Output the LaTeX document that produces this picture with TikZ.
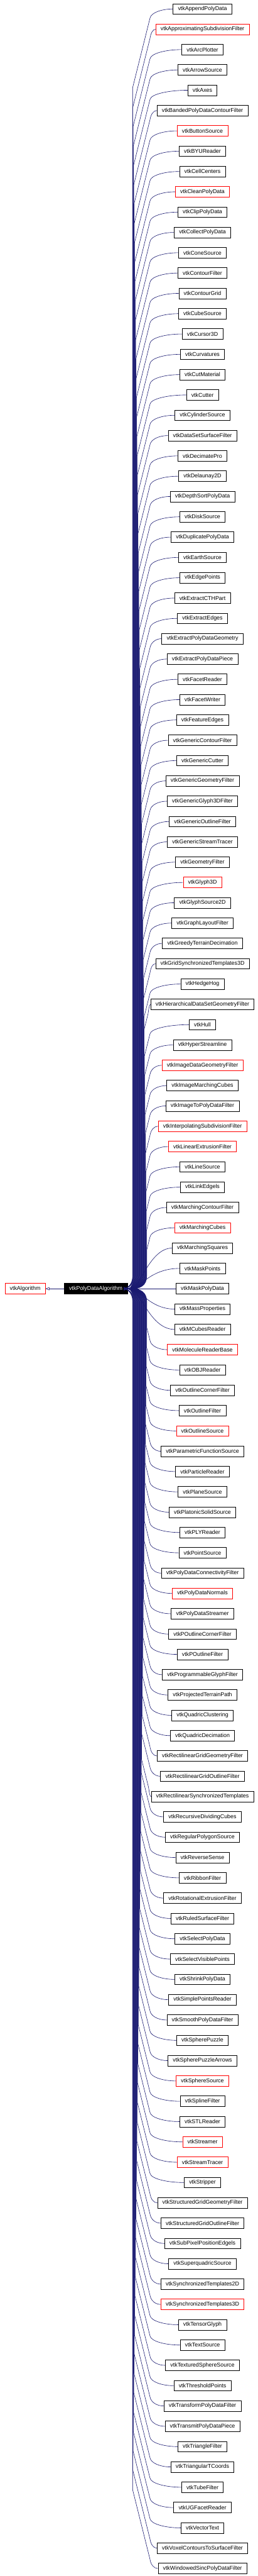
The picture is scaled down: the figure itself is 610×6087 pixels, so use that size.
\documentclass[tikz,border=0pt]{standalone}
\usepackage{fontspec}
\setmainfont{Liberation Sans}
\usetikzlibrary{arrows.meta}
\definecolor{navy}{HTML}{191970}
\tikzset{
  cls/.style={draw, line width=1pt, minimum height=25pt, inner xsep=11.5pt, inner ysep=0pt,
    font=\fontsize{13.2}{15}\selectfont, fill=white},
  rootcls/.style={cls, fill=black, text=white},
  inh/.style={draw=navy, line width=0.9pt, {Triangle[open, length=9pt, width=7pt]}-}
}
\begin{document}
\begin{tikzpicture}[x=1pt,y=-1pt]
\useasboundingbox (0,0) rectangle (610,6087);
\foreach \nm/\col [count=\i] in {
vtkAppendPolyData/black,
vtkApproximatingSubdivisionFilter/red,
vtkArcPlotter/black,
vtkArrowSource/black,
vtkAxes/black,
vtkBandedPolyDataContourFilter/black,
vtkButtonSource/red,
vtkBYUReader/black,
vtkCellCenters/black,
vtkCleanPolyData/red,
vtkClipPolyData/black,
vtkCollectPolyData/black,
vtkConeSource/black,
vtkContourFilter/black,
vtkContourGrid/black,
vtkCubeSource/black,
vtkCursor3D/black,
vtkCurvatures/black,
vtkCutMaterial/black,
vtkCutter/black,
vtkCylinderSource/black,
vtkDataSetSurfaceFilter/black,
vtkDecimatePro/black,
vtkDelaunay2D/black,
vtkDepthSortPolyData/black,
vtkDiskSource/black,
vtkDuplicatePolyData/black,
vtkEarthSource/black,
vtkEdgePoints/black,
vtkExtractCTHPart/black,
vtkExtractEdges/black,
vtkExtractPolyDataGeometry/black,
vtkExtractPolyDataPiece/black,
vtkFacetReader/black,
vtkFacetWriter/black,
vtkFeatureEdges/black,
vtkGenericContourFilter/black,
vtkGenericCutter/black,
vtkGenericGeometryFilter/black,
vtkGenericGlyph3DFilter/black,
vtkGenericOutlineFilter/black,
vtkGenericStreamTracer/black,
vtkGeometryFilter/black,
vtkGlyph3D/red,
vtkGlyphSource2D/black,
vtkGraphLayoutFilter/black,
vtkGreedyTerrainDecimation/black,
vtkGridSynchronizedTemplates3D/black,
vtkHedgeHog/black,
vtkHierarchicalDataSetGeometryFilter/black,
vtkHull/black,
vtkHyperStreamline/black,
vtkImageDataGeometryFilter/red,
vtkImageMarchingCubes/black,
vtkImageToPolyDataFilter/black,
vtkInterpolatingSubdivisionFilter/red,
vtkLinearExtrusionFilter/red,
vtkLineSource/black,
vtkLinkEdgels/black,
vtkMarchingContourFilter/black,
vtkMarchingCubes/red,
vtkMarchingSquares/black,
vtkMaskPoints/black,
vtkMaskPolyData/black,
vtkMassProperties/black,
vtkMCubesReader/black,
vtkMoleculeReaderBase/red,
vtkOBJReader/black,
vtkOutlineCornerFilter/black,
vtkOutlineFilter/black,
vtkOutlineSource/red,
vtkParametricFunctionSource/black,
vtkParticleReader/black,
vtkPlaneSource/black,
vtkPlatonicSolidSource/black,
vtkPLYReader/black,
vtkPointSource/black,
vtkPolyDataConnectivityFilter/black,
vtkPolyDataNormals/red,
vtkPolyDataStreamer/black,
vtkPOutlineCornerFilter/black,
vtkPOutlineFilter/black,
vtkProgrammableGlyphFilter/black,
vtkProjectedTerrainPath/black,
vtkQuadricClustering/black,
vtkQuadricDecimation/black,
vtkRectilinearGridGeometryFilter/black,
vtkRectilinearGridOutlineFilter/black,
vtkRectilinearSynchronizedTemplates/black,
vtkRecursiveDividingCubes/black,
vtkRegularPolygonSource/black,
vtkReverseSense/black,
vtkRibbonFilter/black,
vtkRotationalExtrusionFilter/black,
vtkRuledSurfaceFilter/black,
vtkSelectPolyData/black,
vtkSelectVisiblePoints/black,
vtkShrinkPolyData/black,
vtkSimplePointsReader/black,
vtkSmoothPolyDataFilter/black,
vtkSpherePuzzle/black,
vtkSpherePuzzleArrows/black,
vtkSphereSource/red,
vtkSplineFilter/black,
vtkSTLReader/black,
vtkStreamer/red,
vtkStreamTracer/red,
vtkStripper/black,
vtkStructuredGridGeometryFilter/black,
vtkStructuredGridOutlineFilter/black,
vtkSubPixelPositionEdgels/black,
vtkSuperquadricSource/black,
vtkSynchronizedTemplates2D/black,
vtkSynchronizedTemplates3D/red,
vtkTensorGlyph/black,
vtkTextSource/black,
vtkTexturedSphereSource/black,
vtkThresholdPoints/black,
vtkTransformPolyDataFilter/black,
vtkTransmitPolyDataPiece/black,
vtkTriangleFilter/black,
vtkTriangularTCoords/black,
vtkTubeFilter/black,
vtkUGFacetReader/black,
vtkVectorText/black,
vtkVoxelContoursToSurfaceFilter/black,
vtkWindowedSincPolyDataFilter/black}
{
  \node[cls, draw=\col] (n\i) at (479.3, {21.2+48*(\i-1)}) {\nm};
}
\node[rootcls, anchor=east] (p) at (302, 3045.2) {vtkPolyDataAlgorithm};
\node[cls, draw=red, anchor=east] (a) at ([xshift=-44pt]p.west) {vtkAlgorithm};
\draw[inh] (a.east) -- (p.west);
\foreach \i in {1,...,127}{
  \pgfmathtruncatemacro\k{abs(\i-64)}
  \pgfmathsetmacro\yc{21.2+48*(\i-1)}
  \pgfmathsetmacro\s{ifthenelse(\i<64,1,-1)}
  \path (n\i.west); \pgfgetlastxy{\wx}{\wy}
  \pgfmathsetmacro\wxn{\wx}
  \pgfmathsetmacro\sx{min(355,\wxn-6)}
  \pgfmathsetmacro\cx{349-\k/63*35}
  \pgfmathsetmacro\ya{\yc+\s*(22+4*(\sx-\cx))}
  \pgfmathsetmacro\xm{(\sx+\wxn)/2}
  \ifnum\k=0
    \draw[inh] (p.east) -- (n\i.west);
  \else\ifnum\k<3
    \draw[inh] (p.east) .. controls (330,3045.2) and (\sx,\yc) .. (n\i.west);
  \else
    \draw[inh] (p.east) .. controls ({\cx-15},3045.2) and (\cx,{3045.2-\s*8}) .. (\cx,{3045.2-\s*30}) -- (\cx,\ya) -- (\sx,{\yc+\s*22}) .. controls ({\sx+2},{\yc+\s*9}) and (\xm,\yc) .. (n\i.west);
  \fi\fi
}
\end{tikzpicture}
\end{document}
